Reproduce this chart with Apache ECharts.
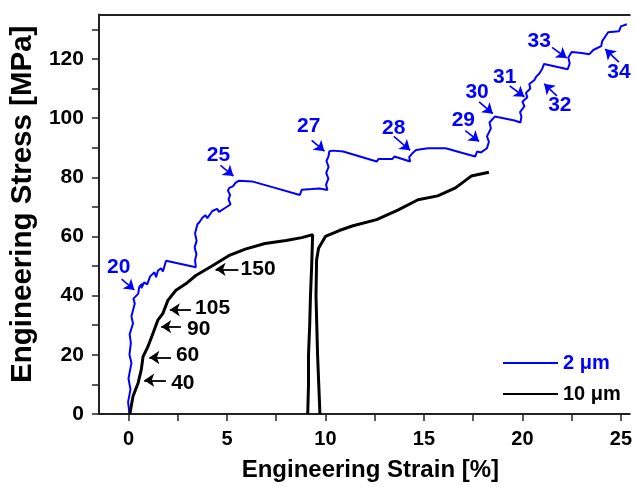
<!DOCTYPE html>
<html><head><meta charset="utf-8">
<script src="https://cdn.jsdelivr.net/npm/echarts@6/dist/echarts.min.js"></script>
<style>html,body{margin:0;padding:0;background:#fff}#c{width:635px;height:487px}</style>
</head><body><div id="c"></div>
<script>
// ---- data ----
const blueCurve = [[0.05,0],[-0.02,4],[0.1,8.3],[0.0,12],[0.15,17.2],[0.05,20],[0.12,24],[0.06,27],[0.23,30.6],[0.15,33],[0.32,37.3],[0.25,39],[0.49,40.6],[0.55,43],[0.7,44],[0.65,42.5],[0.8,44.5],[0.9,45.1],[0.95,43.8],[1.1,46.5],[1.32,47.9],[1.4,46.2],[1.5,48.5],[1.65,49.2],[1.75,48.2],[1.85,50.5],[1.91,51.8],[3.42,49.6],[3.38,52],[3.45,54],[3.36,56.3],[3.46,58.5],[3.38,61],[3.5,64.1],[3.6,64.8],[3.75,66.3],[3.9,67.2],[4.0,66.2],[4.26,68.6],[4.5,69.3],[4.6,68.3],[4.92,69.7],[5.18,70.8],[5.08,72.5],[5.16,74],[5.05,75.5],[5.12,76.4],[5.3,76.9],[5.43,78.1],[5.59,78.8],[6.27,78.6],[7.44,76.4],[8.7,74],[8.8,75.8],[9.3,76],[9.7,76.2],[10.1,75.7],[10.03,77.5],[10.15,79.5],[10.04,81.5],[10.16,83.5],[10.05,85.5],[10.15,87],[10.2,88.8],[10.4,89],[10.9,88.7],[12.6,85.3],[12.7,86.2],[13.4,86.2],[13.5,87],[14.3,85.3],[14.25,86.8],[14.4,88],[14.6,89.2],[15.2,89.8],[16.1,89.8],[17.6,87],[17.7,88.7],[17.9,88.4],[18.2,89.8],[18.3,92],[18.2,93.8],[18.4,96.5],[18.33,98.5],[18.6,100.5],[19.6,99.2],[19.9,98.5],[19.95,100.5],[19.88,102],[20.1,104],[20.0,105.5],[20.25,107],[20.18,108.5],[20.4,110],[20.35,111.5],[20.6,112.8],[20.7,114],[20.85,115],[21.0,116.6],[21.1,118.3],[22.3,116.5],[22.4,118.5],[22.33,120.5],[22.5,122.3],[23.0,122],[23.4,121.6],[23.6,123],[24.0,124.3],[24.05,126],[24.2,127.5],[24.35,129],[24.9,129.3],[25.0,131],[25.3,131.7]];
const blackLoad = [[0.07,0],[0.23,6],[0.49,10.5],[0.65,15],[0.74,19.4],[0.99,22.8],[1.24,27.2],[1.49,31.7],[1.74,33.9],[2.0,38.4],[2.41,41.8],[2.91,44],[3.42,46.8],[4.26,50.1],[5.09,53.5],[5.93,55.7],[6.93,57.6],[8.0,58.6],[8.8,59.6],[9.35,60.6],[9.3,50],[9.24,40],[9.2,30],[9.14,20],[9.14,10],[9.1,0]];
const blackReload = [[9.72,0],[9.66,10],[9.6,20],[9.56,30],[9.52,40],[9.55,52],[9.65,56],[10.0,60],[10.7,62],[11.4,63.6],[12.6,65.7],[13.7,69],[14.7,72.4],[15.7,73.7],[16.6,76.4],[17.4,80.4],[18.3,81.7]];

const blueNoteText = ['20','25','27','28','29','30','31','32','33','34'];
const blueNotePos = [[-0.5,49.6],[4.57,87.4],[9.15,97.2],[13.47,96.5],[17.0,99.2],[17.7,108.9],[19.1,113.9],[21.9,104.2],[20.85,126],[24.9,115.6]];
const blueArrowFrom = [[-0.35,45.6],[4.67,84],[9.3,92.5],[13.47,93.8],[17.1,95.8],[17.8,105.5],[19.35,110.9],[21.75,107.5],[21.5,123.9],[24.9,118.9]];
const blueArrowTo = [[0.3,41.9],[5.33,80.4],[9.95,88.8],[14.3,89.1],[17.8,92.1],[18.5,101.5],[20.1,107.2],[21.1,111.6],[22.25,120.3],[24.2,123.3]];

const blackNoteText = ['40','60','90','105','150'];
const blackNotePos = [[2.76,10.4],[3.0,19.8],[3.57,28.5],[4.27,35.8],[6.58,48.9]];
const blackArrowFrom = [[1.9,11.4],[2.16,19.1],[2.66,29.5],[3.17,35.2],[5.58,48.9]];
const blackArrowTo = [[0.8,11.4],[1.06,19.1],[1.66,29.5],[2.1,35.2],[4.42,48.9]];

const xTickLabels = [0,5,10,15,20,25];
const xTicks = [0,2.5,5,7.5,10,12.5,15,17.5,20,22.5,25];
const yTickLabels = [0,20,40,60,80,100,120];
const yTicks = [0,10,20,30,40,50,60,70,80,90,100,110,120,130];

// ---- chart ----
const FONT = "'Liberation Sans', Arial, sans-serif";
const BLUE = '#0000ff';
const AX = '#222';

function notes(texts, pos) {
  return texts.map((t, i) => ({ name: t, value: pos[i] }));
}
function arrows(from, to) {
  return from.map((f, i) => [{ coord: f }, { coord: to[i] }]);
}
function noteLabel(color) {
  return { show: true, position: 'inside', formatter: '{b}', color: color, opacity: 1,
    textBorderWidth: 0, textShadowBlur: 0, fontFamily: FONT, fontWeight: 'bold', fontSize: 21 };
}

const chart = echarts.init(document.getElementById('c'), null, { renderer: 'canvas' });
chart.setOption({
  animation: false,
  backgroundColor: '#fff',
  grid: { left: 97.5, top: 14.5, right: 0, height: 403.5, show: false, containLabel: false },
  legend: {
    orient: 'vertical', left: 498, top: 348, itemWidth: 55, itemHeight: 2, itemGap: 11,
    icon: 'rect',
    textStyle: { fontFamily: FONT, fontWeight: 'bold', fontSize: 20 },
    data: [
      { name: '2 μm', textStyle: { color: BLUE } },
      { name: '10 μm', textStyle: { color: '#000' } }
    ]
  },
  xAxis: [{
    type: 'value', min: -1.5, max: 25.45,
    name: 'Engineering Strain [%]', nameLocation: 'middle', nameGap: 44,
    nameTextStyle: { fontFamily: FONT, fontWeight: 'bold', fontSize: 24, color: '#000', padding: [0, 0, 0, 12] },
    axisLine: { show: true, onZero: false, lineStyle: { color: AX, width: 2 } },
    axisTick: { show: true, length: 7, customValues: xTicks, lineStyle: { color: AX, width: 1.5 } },
    axisLabel: { customValues: xTickLabels, margin: 15, fontFamily: FONT, fontWeight: 'bold', fontSize: 20, color: '#000' },
    splitLine: { show: false }
  }, {
    type: 'value', min: -1.5, max: 25.45, position: 'top',
    axisLine: { show: true, onZero: false, lineStyle: { color: AX, width: 2 } },
    axisTick: { show: false }, axisLabel: { show: false }, splitLine: { show: false }
  }],
  yAxis: {
    type: 'value', min: 0, max: 135,
    name: 'Engineering Stress [MPa]', nameLocation: 'middle', nameGap: 60,
    nameTextStyle: { fontFamily: FONT, fontWeight: 'bold', fontSize: 29.5, color: '#000', padding: [0, 0, 0, 20] },
    axisLine: { show: true, onZero: false, lineStyle: { color: AX, width: 2 } },
    axisTick: { show: true, length: 7, customValues: yTicks, lineStyle: { color: AX, width: 1.5 } },
    axisLabel: { customValues: yTickLabels, margin: 15, fontFamily: FONT, fontWeight: 'bold', fontSize: 21, color: '#000' },
    splitLine: { show: false }
  },
  series: [
    { name: '2 μm', type: 'line', data: blueCurve, symbol: 'none', showSymbol: false, clip: true,
      lineStyle: { color: BLUE, width: 2 }, itemStyle: { color: BLUE }, z: 3 },
    { name: '10 μm', type: 'line', data: blackLoad, symbol: 'none', showSymbol: false, clip: true,
      lineStyle: { color: '#000', width: 3 }, itemStyle: { color: '#000' }, z: 3 },
    { name: '10 μm', type: 'line', data: blackReload, symbol: 'none', showSymbol: false, clip: true,
      lineStyle: { color: '#000', width: 3 }, itemStyle: { color: '#000' }, z: 3 },
    { name: 'blueNotes', type: 'scatter', data: notes(blueNoteText, blueNotePos), symbolSize: 0,
      itemStyle: { color: BLUE }, silent: true, label: noteLabel(BLUE),
      markLine: { silent: true, symbol: ['none', 'arrow'], symbolSize: 10, label: { show: false },
        lineStyle: { color: BLUE, width: 1.6, type: 'solid', opacity: 1 }, data: arrows(blueArrowFrom, blueArrowTo) } },
    { name: 'blackNotes', type: 'scatter', data: notes(blackNoteText, blackNotePos), symbolSize: 0,
      itemStyle: { color: '#000' }, silent: true, label: noteLabel('#000'),
      markLine: { silent: true, symbol: ['none', 'arrow'], symbolSize: 10, label: { show: false },
        lineStyle: { color: '#000', width: 1.8, type: 'solid', opacity: 1 }, data: arrows(blackArrowFrom, blackArrowTo) } }
  ]
});
</script>
</body></html>
